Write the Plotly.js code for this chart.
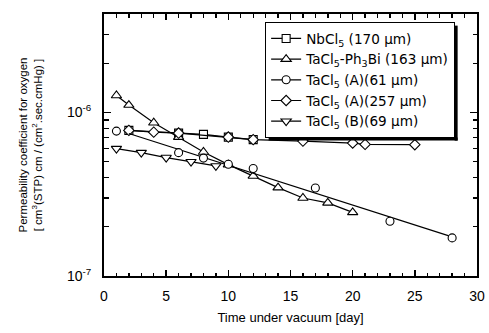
<!DOCTYPE html>
<html><head><meta charset="utf-8">
<script src="https://cdn.plot.ly/plotly-3.0.1.min.js"></script>
<style>html,body{margin:0;padding:0;background:#fff}#c{width:489px;height:333px}</style>
</head><body><div id="c"></div>
<script>
// Data (time in days, permeability)
const nbX = [2, 6, 8, 10, 12];
const nbY = [0.777e-6, 0.748e-6, 0.734e-6, 0.707e-6, 0.682e-6];
const phX = [1, 2, 4, 6, 8, 10, 12, 14, 16, 18, 20];
const phY = [1.27e-6, 1.11e-6, 0.865e-6, 0.707e-6, 0.573e-6, 0.48e-6, 0.409e-6, 0.347e-6, 0.30e-6, 0.28e-6, 0.245e-6];
const a61X = [1, 6, 8, 10, 12, 17, 23, 28];
const a61Y = [0.769e-6, 0.568e-6, 0.526e-6, 0.482e-6, 0.454e-6, 0.345e-6, 0.216e-6, 0.171e-6];
const a257X = [2, 4, 6, 10, 12, 16, 20, 21, 25];
const a257Y = [0.777e-6, 0.758e-6, 0.748e-6, 0.707e-6, 0.682e-6, 0.668e-6, 0.65e-6, 0.638e-6, 0.635e-6];
const bX = [1, 3, 5, 7, 9];
const bY = [0.601e-6, 0.568e-6, 0.53e-6, 0.50e-6, 0.471e-6];
const names = ['NbCl<sub>5</sub> (170 µm)', 'TaCl<sub>5</sub>-Ph<sub>3</sub>Bi (163 µm)', 'TaCl<sub>5</sub> (A)(61 µm)', 'TaCl<sub>5</sub> (A)(257 µm)', 'TaCl<sub>5</sub> (B)(69 µm)'];
const xTicks = [0, 5, 10, 15, 20, 25, 30];
const yTicks = [1e-7, 1e-6];
const yTickText = ['10<sup>-7</sup>', '10<sup>-6</sup>'];
const fitStart = 2;

// least-squares fit (log10 y vs x) for TaCl5 (A)(61 µm)
const ly = a61Y.map(v => Math.log10(v));
const n = a61X.length;
const mx = a61X.reduce((s, v) => s + v, 0) / n;
const my = ly.reduce((s, v) => s + v, 0) / n;
let sxy = 0, sxx = 0;
for (let i = 0; i < n; i++) { sxy += (a61X[i] - mx) * (ly[i] - my); sxx += (a61X[i] - mx) ** 2; }
const slope = sxy / sxx, icpt = my - slope * mx;
const fitX = [fitStart, Math.max(...a61X)];
const fitY = fitX.map(x => Math.pow(10, icpt + slope * x));

const ln = {color: '#000', width: 1.2};
const mk = (s, sz) => ({symbol: s, size: sz, color: '#fff', line: {color: '#000', width: 1.1}});
const traces = [
  {x: nbX, y: nbY, name: names[0], mode: 'lines+markers', line: ln, marker: mk('square', 8)},
  {x: phX, y: phY, name: names[1], mode: 'lines+markers', line: ln, marker: mk('triangle-up', 9)},
  {x: [null], y: [null], name: names[2], mode: 'lines+markers', line: ln, marker: mk('circle', 8)},
  {x: a257X, y: a257Y, name: names[3], mode: 'lines+markers', line: ln, marker: mk('diamond', 8)},
  {x: bX, y: bY, name: names[4], mode: 'lines+markers', line: ln, marker: mk('triangle-down', 9)},
  {x: fitX, y: fitY, mode: 'lines', line: ln, showlegend: false, hoverinfo: 'skip'},
  {x: a61X, y: a61Y, mode: 'markers', marker: mk('circle', 8), showlegend: false}
];
const font = {family: 'Liberation Sans, Arial, sans-serif', color: '#000'};
const lfont = {family: 'DejaVu Sans', color: '#000', size: 13.6};
const L = 104, R = 12, T = 14, B = 57, W = 489, H = 333;
const layout = {
  width: W, height: H,
  margin: {l: L, r: R, t: T, b: B},
  paper_bgcolor: '#fff', plot_bgcolor: '#fff',
  font: Object.assign({size: 12}, font),
  showlegend: true,
  legend: {x: 0.432, y: 0.969, xanchor: 'left', yanchor: 'top', bgcolor: '#fff', bordercolor: '#000', borderwidth: 1,
    font: lfont, tracegroupgap: 0, itemwidth: 30},
  xaxis: {range: [0, 30], tickvals: xTicks, ticks: 'inside', ticklen: 6, tickwidth: 1.5, tickcolor: '#000',
    minor: {dtick: 1, ticks: 'inside', ticklen: 3.5, tickwidth: 1.4, tickcolor: '#000', showgrid: false},
    showline: true, linewidth: 2, linecolor: '#000', mirror: 'ticks', showgrid: false, zeroline: false,
    tickfont: Object.assign({size: 14}, font), ticklabelstandoff: 6,
    title: {text: 'Time under vacuum [day]', font: Object.assign({size: 13}, font), standoff: 10}},
  yaxis: {type: 'log', range: [-7, Math.log10(4e-6)], tickvals: yTicks, ticktext: yTickText,
    ticks: 'inside', ticklen: 7, tickwidth: 1.5, tickcolor: '#000',
    minor: {dtick: 'D1', ticks: 'inside', ticklen: 4.5, tickwidth: 1.4, tickcolor: '#000', showgrid: false},
    showline: true, linewidth: 2, linecolor: '#000', mirror: 'ticks', showgrid: false, zeroline: false,
    tickfont: Object.assign({size: 14}, font), ticklabelstandoff: 8,
    title: {text: 'Permeability coefficient for oxygen<br>[ cm<sup>3</sup>(STP) cm / (cm<sup>2</sup>.sec.cmHg) ]', font: Object.assign({size: 11.5}, font), standoff: 22}}
};
Plotly.newPlot('c', traces, layout, {staticPlot: true}).then(() => {
  const lg = document.querySelector('.legend .bg');
  if (!lg) return;
  const bb = lg.getBoundingClientRect();
  const cb = document.getElementById('c').getBoundingClientRect();
  const pw = W - L - R, ph = H - T - B;
  const px = v => (v - cb.left - L) / pw;
  const py = v => 1 - (v - cb.top - T) / ph;
  const s = 3;
  Plotly.relayout('c', {shapes: [
    {type: 'rect', xref: 'paper', yref: 'paper', layer: 'above', line: {width: 0}, fillcolor: '#000',
      x0: px(bb.right), x1: px(bb.right + s), y0: py(bb.bottom + s), y1: py(bb.top + s)},
    {type: 'rect', xref: 'paper', yref: 'paper', layer: 'above', line: {width: 0}, fillcolor: '#000',
      x0: px(bb.left + s), x1: px(bb.right + s), y0: py(bb.bottom + s), y1: py(bb.bottom)}
  ]});
});
</script></body></html>
